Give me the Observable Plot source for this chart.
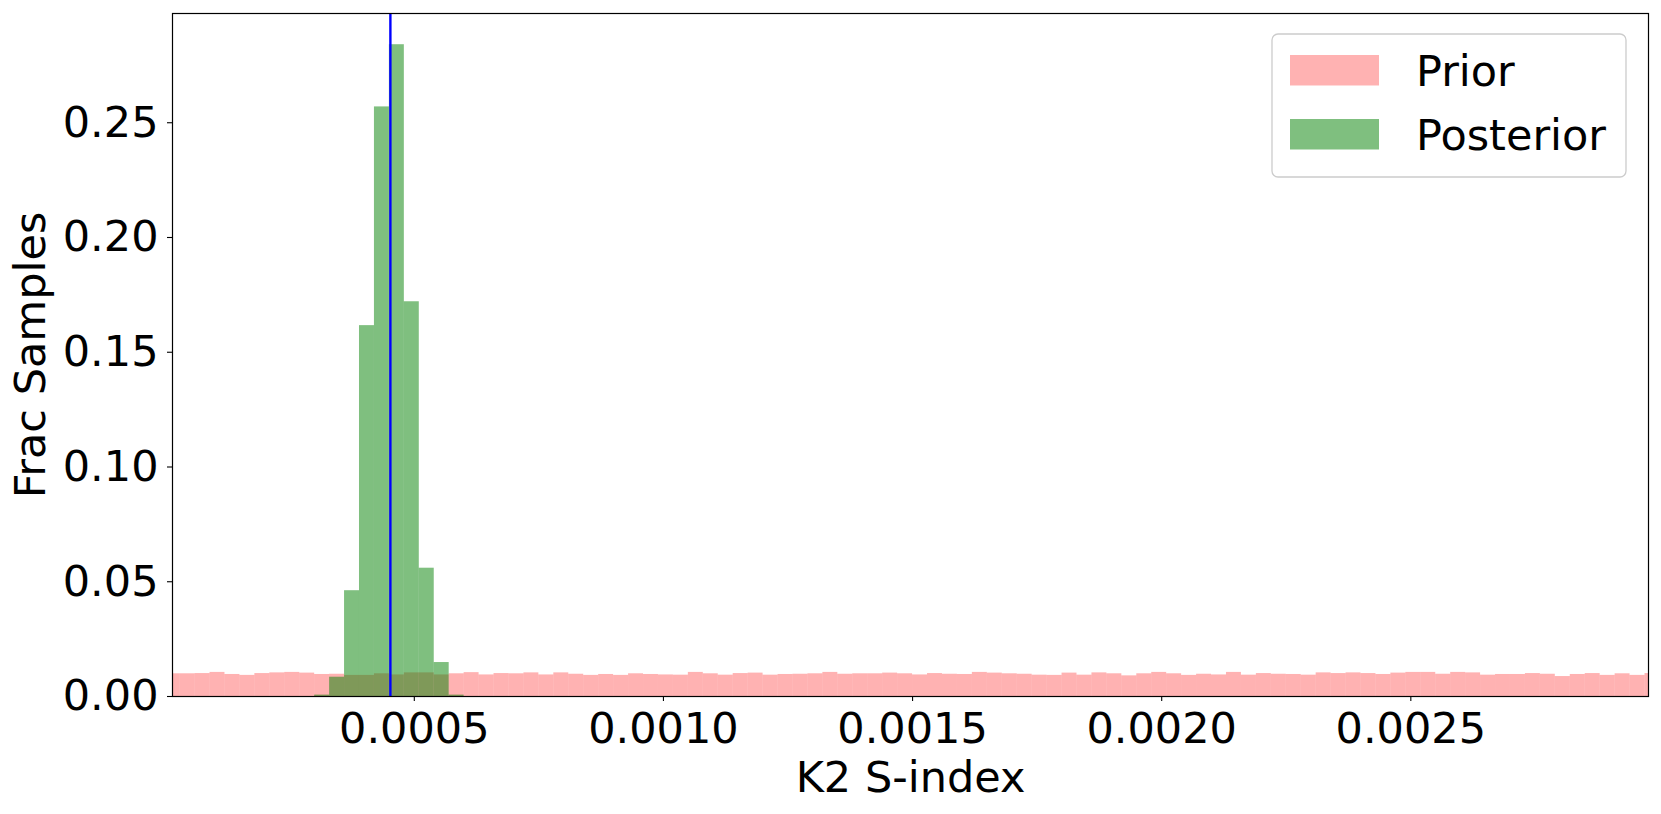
<!DOCTYPE html>
<html>
<head>
<meta charset="utf-8">
<script src="https://cdn.jsdelivr.net/npm/d3@7"></script>
<script src="https://cdn.jsdelivr.net/npm/@observablehq/plot@0.6"></script>
<style>
  html, body { margin: 0; padding: 0; background: #fff; }
  #chart { width: 1661px; height: 814px; }
</style>
</head>
<body>
<div id="chart"></div>
<script>
// ---- data ----
const binWidth = 0.00003;            // histogram bin width (bins start at 0)
const priorFrac = [
  0.0099, 0.0099, 0.0100, 0.0105, 0.0096, 0.0092, 0.0100, 0.0103, 0.0105, 0.0102,
  0.0096, 0.0097, 0.0092, 0.0092, 0.0099, 0.0094, 0.0103, 0.0103, 0.0094, 0.0099,
  0.0104, 0.0094, 0.0100, 0.0099, 0.0103, 0.0094, 0.0103, 0.0097, 0.0092, 0.0096,
  0.0092, 0.0099, 0.0096, 0.0094, 0.0093, 0.0105, 0.0099, 0.0093, 0.0100, 0.0102,
  0.0093, 0.0096, 0.0097, 0.0099, 0.0105, 0.0097, 0.0099, 0.0099, 0.0102, 0.0099,
  0.0094, 0.0100, 0.0097, 0.0096, 0.0105, 0.0102, 0.0099, 0.0097, 0.0093, 0.0092,
  0.0102, 0.0093, 0.0103, 0.0099, 0.0090, 0.0099, 0.0105, 0.0099, 0.0092, 0.0097,
  0.0094, 0.0105, 0.0093, 0.0100, 0.0097, 0.0096, 0.0093, 0.0103, 0.0100, 0.0103,
  0.0100, 0.0096, 0.0102, 0.0105, 0.0105, 0.0097, 0.0105, 0.0103, 0.0093, 0.0096,
  0.0096, 0.0100, 0.0097, 0.0087, 0.0096, 0.0100, 0.0092, 0.0099, 0.0092, 0.0100
];
const postFirstBin = 10;
const postFrac = [0.0006, 0.0084, 0.0461, 0.1616, 0.2569, 0.2840, 0.1720, 0.0559, 0.0148, 0.0006];
const trueValue = [0.000452];
const xTicks = [0.0005, 0.0010, 0.0015, 0.0020, 0.0025];
const yTicks = [0.00, 0.05, 0.10, 0.15, 0.20, 0.25];
const xDomain = [0.0000147, 0.002977];
const yDomain = [0, 0.2976];
const xLabel = "K2 S-index";
const yLabel = "Frac Samples";
const legendLabels = ["Prior", "Posterior"];
const legendColors = ["rgba(255,0,0,0.3)", "rgba(0,128,0,0.5)"];

// ---- tables ----
const prior = priorFrac.map((v, i) => ({x1: i * binWidth, x2: (i + 1) * binWidth, y1: 0, y2: v}));
const post = postFrac.map((v, i) => ({x1: (postFirstBin + i) * binWidth, x2: (postFirstBin + i + 1) * binWidth, y1: 0, y2: v}));

const FONT = '"DejaVu Sans", sans-serif';

const chart = Plot.plot({
  width: 1661,
  height: 814,
  marginLeft: 172,
  marginRight: 13,
  marginTop: 13,
  marginBottom: 118,
  style: {fontFamily: FONT, fontSize: "43px", color: "black", background: "white"},
  x: {domain: xDomain},
  y: {domain: yDomain},
  marks: [
    Plot.rect(prior, {x1: "x1", x2: "x2", y1: "y1", y2: "y2", fill: "red", fillOpacity: 0.3, clip: true}),
    Plot.rect(post, {x1: "x1", x2: "x2", y1: "y1", y2: "y2", fill: "green", fillOpacity: 0.5, clip: true}),
    Plot.ruleX(trueValue, {stroke: "blue", strokeWidth: 2.4}),
    Plot.frame({stroke: "black", strokeWidth: 1.2}),
    Plot.axisX(xTicks, {tickFormat: d3.format(".4f"), tickSize: 5, tickPadding: 10.5, label: null, strokeWidth: 1.1, fontSize: 43}),
    Plot.axisY(yTicks, {tickFormat: d3.format(".2f"), tickSize: 5, tickPadding: 9, label: null, strokeWidth: 1.1, fontSize: 43}),
    Plot.text([xLabel], {text: d => d, frameAnchor: "bottom", dy: 95.7, lineAnchor: "bottom", textAnchor: "middle", fontSize: 43}),
    Plot.text([yLabel], {text: d => d, frameAnchor: "left", rotate: -90, dx: -128, lineAnchor: "bottom", textAnchor: "middle", fontSize: 43})
  ]
});

document.getElementById("chart").appendChild(chart);

// ---- legend (upper right, inside the axes) ----
const svg = d3.select(chart);
const lg = svg.append("g").attr("font-family", FONT).attr("font-size", 43);
lg.append("rect")
  .attr("x", 1272).attr("y", 34).attr("width", 354).attr("height", 143)
  .attr("rx", 6).attr("fill", "white").attr("fill-opacity", 0.8)
  .attr("stroke", "#cccccc").attr("stroke-width", 1.3);
const rowY = [55, 119];
legendLabels.forEach((lab, i) => {
  lg.append("rect")
    .attr("x", 1290).attr("y", rowY[i]).attr("width", 89).attr("height", 30.5)
    .attr("fill", legendColors[i]);
  lg.append("text")
    .attr("x", 1416).attr("y", rowY[i] + 30.5)
    .attr("text-anchor", "start").attr("fill", "black")
    .text(lab);
});
</script>
</body>
</html>
